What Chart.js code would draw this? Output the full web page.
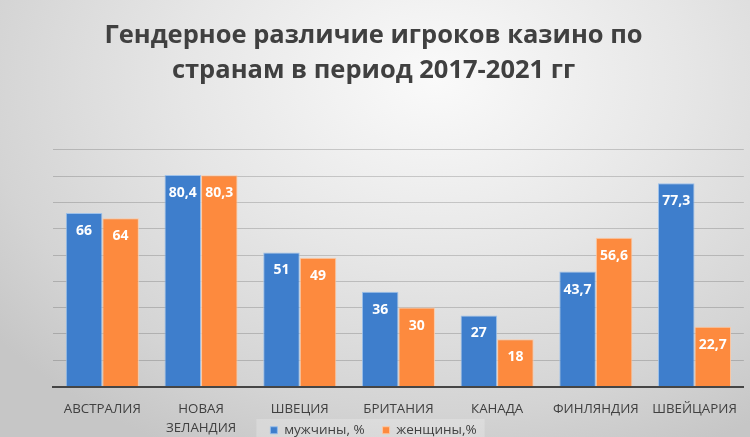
<!DOCTYPE html>
<html>
<head>
<meta charset="utf-8">
<script src="https://cdn.jsdelivr.net/npm/chart.js@4.4.1/dist/chart.umd.min.js"></script>
<style>
  html, body { margin: 0; padding: 0; width: 750px; height: 437px; overflow: hidden; }
  body { background: radial-gradient(ellipse 75% 95% at 58% 18%, #fafafa 0%, #e6e6e6 45%, #d4d4d4 80%, #c6c6c6 100%); }
  canvas { display: block; }
</style>
</head>
<body>
<canvas id="c" width="750" height="437"></canvas>
<script>
const titleLines = ['Гендерное различие игроков казино по', 'странам в период 2017-2021 гг'];
const categories = ['АВСТРАЛИЯ', ['НОВАЯ', 'ЗЕЛАНДИЯ'], 'ШВЕЦИЯ', 'БРИТАНИЯ', 'КАНАДА', 'ФИНЛЯНДИЯ', 'ШВЕЙЦАРИЯ'];
const seriesNames = ['мужчины, %', 'женщины,%'];
const menValues = [66, 80.4, 51, 36, 27, 43.7, 77.3];
const womenValues = [64, 80.3, 49, 30, 18, 56.6, 22.7];
const yMin = 0, yMax = 90, yStep = 10;

const FONT = "'Open Sans', 'Noto Sans', sans-serif";
const TEXT = '#404040';

const valueLabels = {
  id: 'valueLabels',
  afterDatasetsDraw(chart) {
    const ctx = chart.ctx;
    ctx.save();
    ctx.font = "bold 14px " + FONT;
    ctx.fillStyle = '#ffffff';
    ctx.textAlign = 'center';
    ctx.textBaseline = 'middle';
    chart.data.datasets.forEach((ds, di) => {
      chart.getDatasetMeta(di).data.forEach((bar, i) => {
        const txt = String(ds.data[i]).replace('.', ',');
        ctx.fillText(txt, bar.x, bar.y + 18);
      });
    });
    ctx.restore();
  }
};

// let the two-line category label extend below the (short) x-scale box
const unclipX = {
  id: 'unclipX',
  afterLayout(chart) {
    chart.scales.x.bottom = chart.height;
  }
};

const legendBg = {
  id: 'legendBg',
  beforeDraw(chart) {
    const lg = chart.legend;
    if (!lg || !lg.legendHitBoxes || !lg.legendHitBoxes.length) return;
    const hb = lg.legendHitBoxes;
    const l = hb[0].left - 14, r = hb[hb.length - 1].left + hb[hb.length - 1].width + 8;
    const ctx = chart.ctx;
    ctx.save();
    ctx.fillStyle = 'rgba(255,255,255,0.22)';
    ctx.fillRect(l, 419, r - l, chart.height - 419);
    ctx.restore();
  }
};

new Chart(document.getElementById('c'), {
  type: 'bar',
  data: {
    labels: categories,
    datasets: [
      { label: seriesNames[0], data: menValues, backgroundColor: '#3e7ecc', borderColor: 'rgba(150,190,235,0.9)', borderWidth: 1 },
      { label: seriesNames[1], data: womenValues, backgroundColor: '#fd8a3e', borderColor: 'rgba(255,200,160,0.9)', borderWidth: 1 }
    ]
  },
  options: {
    responsive: false,
    animation: false,
    devicePixelRatio: 1,
    layout: { padding: { left: 0, right: 3, top: 0, bottom: -10 } },
    datasets: { bar: { categoryPercentage: 0.74, barPercentage: 1.0 } },
    plugins: {
      title: {
        display: true,
        text: titleLines,
        color: TEXT,
        font: { family: FONT, size: 25.5, weight: 'bold', lineHeight: 1.35 },
        padding: { top: 19, bottom: 62 }
      },
      legend: {
        position: 'bottom',
        labels: {
          color: TEXT,
          font: { family: FONT, size: 13.5 },
          boxWidth: 7, boxHeight: 7, padding: 18
        }
      },
      tooltip: { enabled: false }
    },
    scales: {
      x: {
        grid: { display: false, drawTicks: false },
        border: { display: true, color: '#454545', width: 2 },
        ticks: { color: TEXT, font: { family: FONT, size: 13.3, lineHeight: 1.45 }, padding: 13, maxRotation: 0, autoSkip: false },
        afterFit: (s) => { s.height = 19; }
      },
      y: {
        min: yMin, max: yMax,
        ticks: { display: false, stepSize: yStep },
        grid: { color: 'rgba(0,0,0,0.17)', lineWidth: 1, drawTicks: false },
        border: { display: false },
        afterFit: (s) => { s.width = 53; }
      }
    }
  },
  plugins: [legendBg, unclipX, valueLabels]
});
</script>
</body>
</html>
